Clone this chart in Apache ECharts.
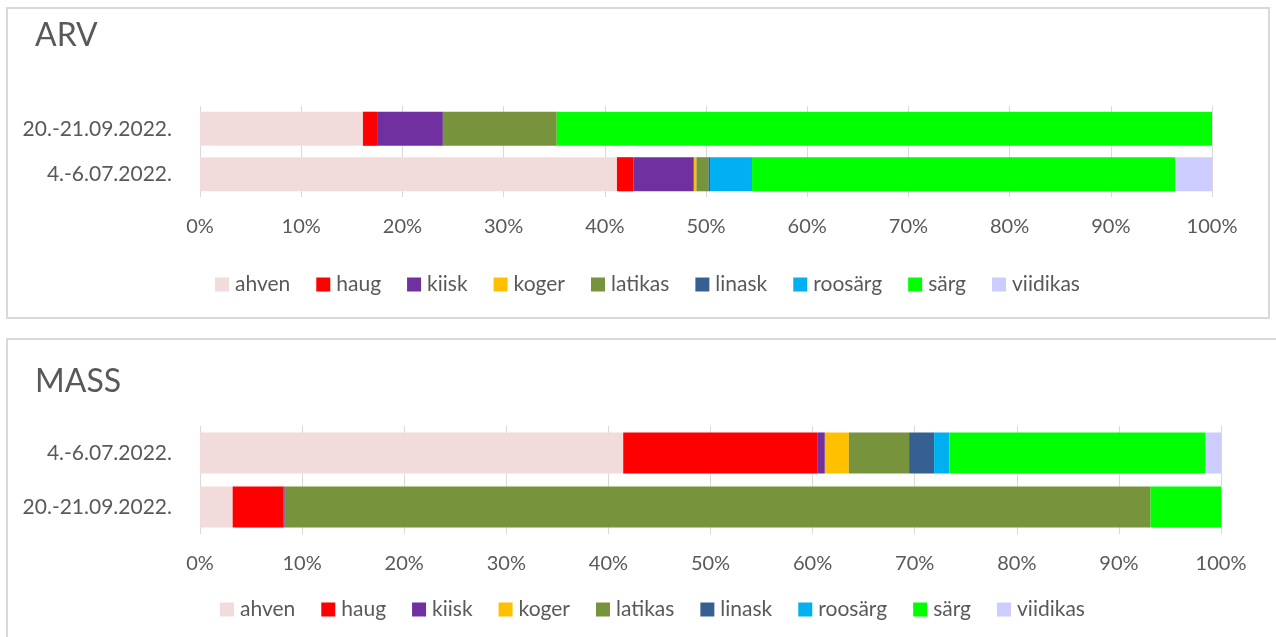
<!DOCTYPE html>
<html>
<head>
<meta charset="utf-8">
<script src="https://cdn.jsdelivr.net/npm/echarts@6/dist/echarts.min.js"></script>
<style>
  html, body { margin: 0; padding: 0; background: #ffffff; }
  #chart { width: 1276px; height: 637px; }
</style>
</head>
<body>
<div id="chart"></div>
<script>
// Species, in stacking order
const species = ['ahven', 'haug', 'kiisk', 'koger', 'latikas', 'linask', 'roosärg', 'särg', 'viidikas'];
const speciesColors = ['#F2DCDB', '#FF0000', '#7030A0', '#FFC000', '#77933C', '#376092', '#00B0F0', '#00FF00', '#CCCCFF'];

// Sampling dates
const dateJul = '4.-6.07.2022.';
const dateSep = '20.-21.09.2022.';

// Share by count (ARV), % per species
const arvJul = [41.2, 1.65, 5.95, 0.25, 1.2, 0.15, 4.15, 41.8, 3.65];
const arvSep = [16.1, 1.4, 6.5, 0, 11.25, 0, 0, 64.75, 0];

// Share by weight (MASS), % per species
const massJul = [41.45, 19.0, 0.75, 2.35, 5.9, 2.45, 1.5, 25.1, 1.5];
const massSep = [3.2, 5.0, 0.1, 0, 84.8, 0, 0, 6.9, 0];

// Category order per panel (first entry is drawn at the bottom)
const arvCategories = [dateJul, dateSep];
const massCategories = [dateSep, dateJul];

// Percent tick labels
const percentTicks = ['0%', '10%', '20%', '30%', '40%', '50%', '60%', '70%', '80%', '90%', '100%'];

const textColor = '#595959';
const fontFamily = 'Lato, "Open Sans", sans-serif';
const gridColor = '#d9d9d9';

function valueFor(categories, julValues, sepValues, i) {
  return categories.map(c => (c === dateJul ? julValues[i] : sepValues[i]));
}

const series = [];
species.forEach((name, i) => {
  series.push({
    name: name,
    type: 'bar',
    stack: 'arv',
    xAxisIndex: 0,
    yAxisIndex: 0,
    barCategoryGap: '25%',
    itemStyle: { color: speciesColors[i] },
    emphasis: { disabled: true },
    data: valueFor(arvCategories, arvJul, arvSep, i)
  });
});
species.forEach((name, i) => {
  series.push({
    name: name,
    type: 'bar',
    stack: 'mass',
    xAxisIndex: 1,
    yAxisIndex: 1,
    barCategoryGap: '24%',
    itemStyle: { color: speciesColors[i] },
    emphasis: { disabled: true },
    data: valueFor(massCategories, massJul, massSep, i)
  });
});

function percentAxis(gridIndex) {
  return {
    type: 'value',
    gridIndex: gridIndex,
    min: 0,
    max: 100,
    interval: 10,
    axisLine: { show: false },
    axisTick: { show: false },
    splitLine: { show: true, lineStyle: { color: gridColor, width: 1 } },
    axisLabel: {
      color: textColor,
      fontFamily: fontFamily,
      fontSize: 20,
      margin: 20,
      formatter: v => percentTicks[Math.round(v / 10)]
    }
  };
}

function dateAxis(gridIndex, categories) {
  return {
    type: 'category',
    gridIndex: gridIndex,
    data: categories,
    axisLine: { show: false },
    axisTick: { show: false },
    axisLabel: {
      color: textColor,
      fontFamily: fontFamily,
      fontSize: 21,
      margin: 28
    }
  };
}

function legendAt(left, top) {
  return {
    data: species,
    left: left,
    top: top,
    orient: 'horizontal',
    icon: 'rect',
    itemWidth: 14,
    itemHeight: 14,
    itemGap: 26,
    selectedMode: false,
    textStyle: { color: textColor, fontFamily: fontFamily, fontSize: 21, padding: [0, 0, 0, 1] }
  };
}

const chart = echarts.init(document.getElementById('chart'), null, { renderer: 'canvas' });
chart.setOption({
  animation: false,
  backgroundColor: '#ffffff',
  graphic: [
    { type: 'rect', shape: { x: 7, y: 8, width: 1262, height: 310 }, style: { fill: 'none', stroke: gridColor, lineWidth: 2 }, silent: true },
    { type: 'rect', shape: { x: 7, y: 339, width: 1300, height: 320 }, style: { fill: 'none', stroke: gridColor, lineWidth: 2 }, silent: true }
  ],
  title: [
    { text: 'ARV', left: 30, top: 15, textStyle: { color: textColor, fontFamily: fontFamily, fontSize: 32, fontWeight: 'normal' } },
    { text: 'MASS', left: 30, top: 361, textStyle: { color: textColor, fontFamily: fontFamily, fontSize: 32, fontWeight: 'normal' } }
  ],
  legend: [legendAt(210, 269), legendAt(215, 594)],
  grid: [
    { left: 200, right: 64, top: 106, height: 91 },
    { left: 200, right: 55, top: 426, height: 108 }
  ],
  xAxis: [percentAxis(0), percentAxis(1)],
  yAxis: [dateAxis(0, arvCategories), dateAxis(1, massCategories)],
  series: series
});
</script>
</body>
</html>
